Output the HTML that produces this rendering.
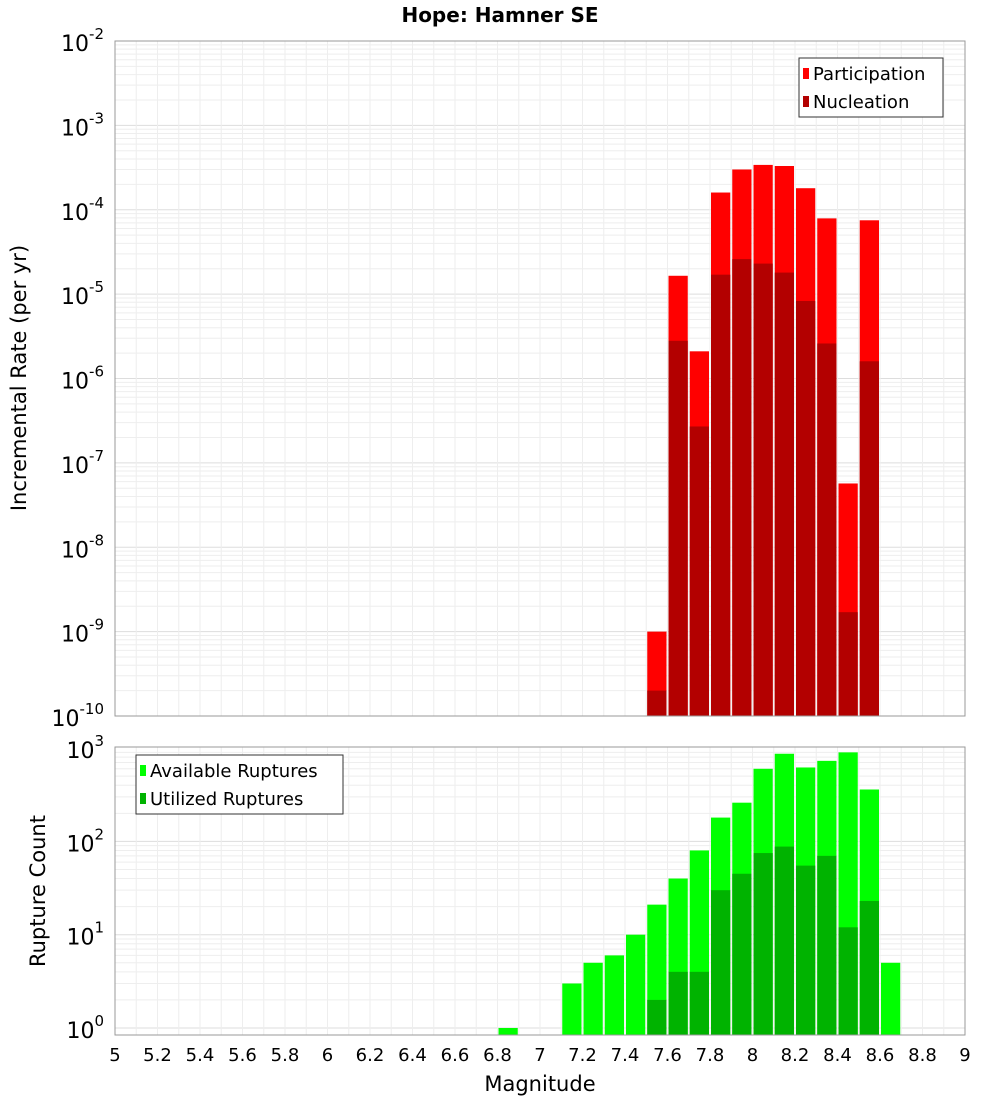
<!DOCTYPE html>
<html><head><meta charset="utf-8"><style>
body{margin:0;background:#fff;font-family:"DejaVu Sans","Liberation Sans",sans-serif;}
svg text{font-family:"DejaVu Sans","Liberation Sans",sans-serif;}
</style></head><body>
<svg id="chart" width="1000" height="1100" viewBox="0 0 1000 1100" xmlns="http://www.w3.org/2000/svg">
<text x="500" y="22" text-anchor="middle" font-size="20" font-weight="bold">Hope: Hamner SE</text>
<g id="topPlot"></g><g id="botPlot"></g>
</svg>
<script>
const binCenters=[7.55,7.65,7.75,7.85,7.95,8.05,8.15,8.25,8.35,8.45,8.55];
const participation=[1e-9,1.65e-5,2.1e-6,1.6e-4,3.0e-4,3.4e-4,3.3e-4,1.8e-4,7.9e-5,5.7e-8,7.5e-5];
const nucleation=[2e-10,2.8e-6,2.7e-7,1.7e-5,2.6e-5,2.3e-5,1.8e-5,8.3e-6,2.6e-6,1.7e-9,1.6e-6];
const countCenters=[6.85,7.15,7.25,7.35,7.45,7.55,7.65,7.75,7.85,7.95,8.05,8.15,8.25,8.35,8.45,8.55,8.65];
const available=[1,3,5,6,10,21,40,80,180,260,600,870,620,730,900,360,5];
const utilized=[0,0,0,0,0,2,4,4,30,45,75,88,55,70,12,23,0];
const xTicks=[5,5.2,5.4,5.6,5.8,6,6.2,6.4,6.6,6.8,7,7.2,7.4,7.6,7.8,8,8.2,8.4,8.6,8.8,9];
const topExps=[-10,-9,-8,-7,-6,-5,-4,-3,-2];
const botExps=[0,1,2,3];
const NS="http://www.w3.org/2000/svg";
const X0=115,X1=965;
const xs=v=>X0+(v-5)/4*(X1-X0);
const T0=41,T1=716;
const ty=v=>T0+(-2-Math.log10(v))/8*(T1-T0);
const B0=747,B1=1035;
const by=v=>1028-Math.log10(v)*93.3;
function mk(p,tag,attrs){const e=document.createElementNS(NS,tag);for(const k in attrs)e.setAttribute(k,attrs[k]);p.appendChild(e);return e;}
const topG=document.getElementById('topPlot'),botG=document.getElementById('botPlot');
for(let d=-10;d<-2;d++)for(let m=1;m<10;m++){const y=ty(m*Math.pow(10,d));
const l=mk(topG,'line',{x1:X0,x2:X1,y1:y,y2:y,stroke:m==1?'#ddd':'#eee','stroke-width':1});

}
for(let d=0;d<=2;d++)for(let m=1;m<10;m++){const y=by(m*Math.pow(10,d));if(y<B0)continue;
const l=mk(botG,'line',{x1:X0,x2:X1,y1:y,y2:y,stroke:m==1?'#ddd':'#eee','stroke-width':1});

}
for(let v=5;v<=9.001;v+=0.1){const x=xs(v);
const l1=mk(topG,'line',{x1:x,x2:x,y1:T0,y2:T1,stroke:'#eee'});


const l2=mk(botG,'line',{x1:x,x2:x,y1:B0,y2:B1,stroke:'#eee'});

}
function bar(p,c,v,base,col,name){const x=xs(c-0.05)+1,w=xs(c+0.05)-xs(c-0.05)-2;const y=(p===topG?ty(v):by(v));
const r=mk(p,'rect',{x:x,y:y,width:w,height:base-y,fill:col});

}
binCenters.forEach((c,i)=>{bar(topG,c,participation[i],T1,'#ff0000','participation-bar');});
binCenters.forEach((c,i)=>{bar(topG,c,nucleation[i],T1,'#b30000','nucleation-bar');});
countCenters.forEach((c,i)=>{if(available[i]>0)bar(botG,c,available[i],B1,'#00ff00','available-bar');});
countCenters.forEach((c,i)=>{if(utilized[i]>0)bar(botG,c,utilized[i],B1,'#00b300','utilized-bar');});
const f1=mk(topG,'rect',{x:X0,y:T0,width:X1-X0,height:T1-T0,fill:'none',stroke:'#999'});


const f2=mk(botG,'rect',{x:X0,y:B0,width:X1-X0,height:B1-B0,fill:'none',stroke:'#999'});


function tickLabel(p,y,e){const t=mk(p,'text',{x:104,y:y+10,'text-anchor':'end','font-size':22});
t.textContent='10';
const s=mk(t,'tspan',{dy:-12,'font-size':15});s.textContent=e;

}
topExps.forEach(e=>tickLabel(topG,ty(Math.pow(10,e)),e));
botExps.forEach(e=>tickLabel(botG,by(Math.pow(10,e)),e));
xTicks.forEach(v=>{const t=mk(botG,'text',{x:xs(v),y:1061,'text-anchor':'middle','font-size':18});t.textContent=String(v);

});
const xt=mk(botG,'text',{x:540,y:1091,'text-anchor':'middle','font-size':21});xt.textContent='Magnitude';


const yt1=mk(topG,'text',{transform:'translate(26,378) rotate(-90)','text-anchor':'middle','font-size':21});yt1.textContent='Incremental Rate (per yr)';


const yt2=mk(botG,'text',{transform:'translate(45,891) rotate(-90)','text-anchor':'middle','font-size':21});yt2.textContent='Rupture Count';


function legend(p,x,y,w,items){const b=mk(p,'rect',{x:x,y:y,width:w,height:59,fill:'#fff',stroke:'#333'});


items.forEach((it,i)=>{const sw=mk(p,'rect',{x:x+4,y:y+10+i*28,width:6,height:11,fill:it[1]});


const t=mk(p,'text',{x:x+14,y:y+22+i*28,'font-size':18});t.textContent=it[0];

});}
legend(topG,799,58,144,[['Participation','#ff0000'],['Nucleation','#b30000']]);
legend(botG,136,755,207,[['Available Ruptures','#00ff00'],['Utilized Ruptures','#00b300']]);
</script>
</body></html>
